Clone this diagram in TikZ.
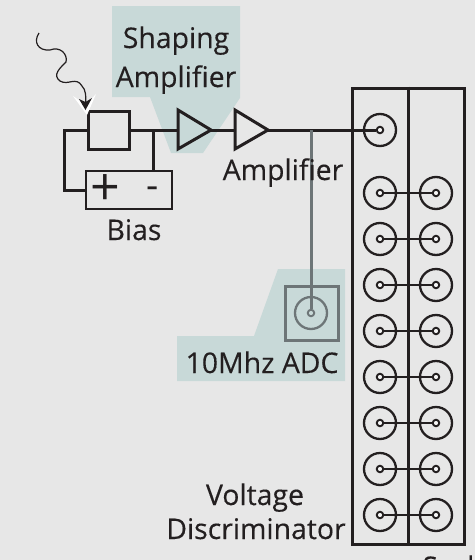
\documentclass[tikz,border=0pt]{standalone}
\usepackage{fontspec}
\setmainfont{Open Sans}
\usetikzlibrary{arrows.meta}
\definecolor{bg}{HTML}{E7E7E7}
\definecolor{teal}{HTML}{C8D9D8}
\definecolor{ink}{HTML}{231F20}
\definecolor{probe}{HTML}{6D7577}
\tikzset{
  x=1pt,y=-1pt,
  label text/.style={inner sep=0pt,anchor=base,text=ink,font=\fontsize{28.4}{28.4}\selectfont\addfontfeature{FakeBold=0.25}},
  wire/.style={draw=ink,line width=3pt},
  block/.style={draw=ink,line width=3pt,inner sep=0pt,minimum width=41pt,minimum height=38pt},
  amp/.style={draw=ink,line width=3pt,line join=miter},
  ring/.style={circle,draw=ink,line width=2.3pt,inner sep=0pt,minimum size=32pt},
  pin/.style={circle,draw=ink,fill=white!60!bg,line width=1.9pt,inner sep=0pt,minimum size=6.5pt},
  probe ring/.style={circle,draw=probe,line width=2.3pt,inner sep=0pt,minimum size=32pt},
  probe pin/.style={circle,draw=probe,fill=teal,line width=1.9pt,inner sep=0pt,minimum size=6.5pt},
  shade/.style={fill=teal,draw=none}
}
\begin{document}
\begin{tikzpicture}
\useasboundingbox (0,0) rectangle (475,560);
\clip (0,0) rectangle (475,560);
\fill[bg] (0,0) rectangle (475,560);
% shaded areas
\fill[shade] (112,6) -- (240,6) -- (240,98) -- (203,153) -- (171,153) -- (150,97) -- (112,97) -- cycle;
\fill[shade] (278,269) -- (345,269) -- (345,381) -- (177,381) -- (177,336) -- (254,336) -- cycle;
% blocks
\node[block] (det) at (108.5,130) {};
\node[block,line width=2.4pt,minimum width=86pt] (bias) at (129,190) {};
\node[inner sep=0pt,text=ink,font=\fontsize{52}{52}\selectfont] (plus) at (105.5,190.5) {+};
\node[inner sep=0pt,text=ink,font=\fontsize{38}{38}\selectfont] (minus) at (153,192.5) {-};
% amplifiers
\coordinate (a1l) at (178,130); \coordinate (a1r) at (211,130);
\coordinate (a2l) at (235,130); \coordinate (a2r) at (268,130);
\coordinate (j) at (153,130); \coordinate (t) at (311,130);
\coordinate (c1) at (64,130); \coordinate (c2) at (64,190);
\draw[wire] (det.east) -- (a1l);
\draw[wire] (a1r) -- (a2l);
\draw[wire] (j) -- (j|-bias.north);
\draw[wire,line join=miter] (det.west) -- (c1) -- (c2) -- (bias.west);
\draw[amp,fill=none] (178,110) -- (a1r) -- (178,149) -- cycle;
\draw[amp,fill=none] (235,110) -- (a2r) -- (235,149) -- cycle;
% discriminator frame
\node[draw=ink,line width=3pt,inner sep=0pt,minimum width=112pt,minimum height=456pt] (frame) at (408,316) {};
\draw[wire] (frame.north) -- (frame.south);
% channels
\node[ring] (top) at (380,130) {};
\node[pin] (toppin) at (380,130) {};
\draw[wire] (a2r) -- (toppin);
\foreach \i/\y in {1/193,2/239,3/285,4/331,5/377,6/423,7/469,8/515}{
  \node[ring] (l\i) at (380,\y) {};
  \node[ring] (r\i) at (436,\y) {};
  \node[pin] (lp\i) at (380,\y) {};
  \node[pin] (rp\i) at (436,\y) {};
  \draw[draw=ink,line width=2.3pt] (lp\i) -- (rp\i);
}
% ADC
\node[draw=probe,line width=3pt,inner sep=0pt,minimum width=53pt,minimum height=54pt] (adc) at (311.5,313) {};
\node[probe ring] (adcring) at (311,313) {};
\node[probe pin] (adcpin) at (311,313) {};
\draw[draw=probe,line width=3pt] (t) -- (adcpin);
% photon
\coordinate (ph0) at (39,33);
\coordinate (ph1) at (85.5,105);
\path[fill=white] (73,96) -- (86,105) -- (96,94) -- (87,115) -- cycle;
\draw[ink,line width=1.2pt] (ph0) .. controls (33,42) and (38,51) .. (50,50)
  .. controls (60,46) and (68,54) .. (66,62)
  .. controls (60,68) and (52,75) .. (60,81)
  .. controls (68,86) and (76,76) .. (82,86)
  .. controls (86,90) and (86,96) .. (ph1);
\path[fill=ink] (79,99) -- (85.5,102) -- (92,98) -- (85.5,110) -- cycle;
% labels
\node[label text] (shaping) at (176,48) {Shaping};
\node[label text] (ampa) at (176,87) {Amplifier};
\node[label text] (ampb) at (283,180) {Amplifier};
\node[label text] (biaslab) at (134,240) {Bias};
\node[label text] (adclab) at (262,373) {10Mhz ADC};
\node[label text] (volt) at (255,505) {Voltage};
\node[label text] (disc) at (256,539) {Discriminator};
\node[label text,anchor=base west] (scaler) at (422,577) {Scaler};
\end{tikzpicture}
\end{document}
